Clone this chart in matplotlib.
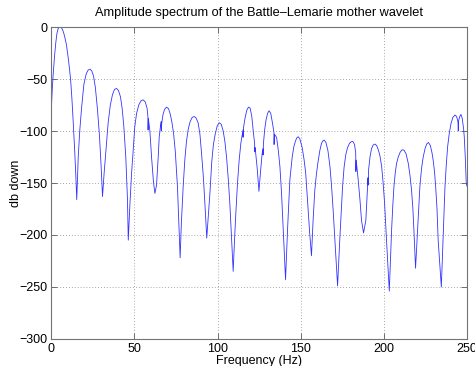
import matplotlib
matplotlib.use("Agg")
import matplotlib.pyplot as plt

freq = [0.0, 0.5, 1.1, 2.0, 2.7, 3.4, 4.1, 4.8, 5.5, 6.2, 6.9, 7.6, 8.3, 9.1, 9.7, 10.3, 11.0, 11.6, 12.4, 13.2, 14.1, 14.8, 15.3,
        16.2, 17.1, 18.2, 19.6, 21.0, 22.1, 23.2, 24.3, 25.4, 26.5, 27.7, 29.0, 30.0, 30.8,
        31.8, 32.8, 34.2, 35.5, 36.8, 38.0, 39.2, 40.4, 41.6, 42.6, 43.6, 44.8, 45.8, 46.3,
        47.3, 48.3, 49.2, 50.2, 51.3, 52.6, 53.9, 55.2, 56.5, 57.6, 58.1, 58.2, 58.4, 59.3, 60.3, 61.4, 62.3,
        63.3, 64.3, 64.9, 65.7, 66.1, 66.2, 66.4, 67.2, 68.2, 69.3, 70.5, 71.6, 72.6, 73.6, 74.6, 75.9, 77.0, 77.5,
        78.2, 79.3, 80.3, 81.3, 82.4, 83.5, 84.7, 85.9, 87.1, 88.3, 89.4, 90.4, 91.5, 92.4, 93.5,
        94.3, 95.4, 96.5, 97.5, 98.6, 99.8, 101.0, 102.2, 103.4, 104.4, 105.4, 106.4, 107.4, 108.5, 109.4,
        110.2, 111.0, 112.0, 113.0, 114.0, 115.0, 115.3, 115.4, 115.6, 116.6, 117.6, 118.6, 119.6, 120.6, 121.4, 122.3, 122.4, 122.6, 123.8, 124.9,
        125.8, 126.8, 127.3, 127.4, 127.6, 128.4, 129.2, 130.1, 131.0, 132.0, 133.0, 133.9, 134.0, 134.2, 135.5, 136.5, 137.5, 138.5, 139.5, 140.9,
        142.1, 143.5, 144.9, 145.9, 146.9, 147.7, 148.5, 149.5, 150.9, 152.0, 153.0, 154.5, 155.5, 156.5,
        157.5, 158.5, 159.5, 160.5, 161.5, 162.5, 163.3, 164.1, 165.2, 166.4, 167.6, 168.6, 169.6, 170.6, 172.2,
        173.6, 174.5, 175.2, 176.1, 177.1, 178.2, 179.3, 180.4, 181.4, 182.4, 183.1, 183.2, 183.4, 184.6, 185.6, 186.6, 187.8,
        189.2, 190.0, 190.5, 190.6, 190.8, 191.7, 192.6, 193.6, 194.6, 195.7, 196.7, 197.7, 198.7, 199.6, 200.5, 201.3, 203.3,
        204.7, 205.4, 206.1, 206.9, 207.7, 208.7, 209.8, 211.0, 212.2, 213.4, 214.7, 215.7, 216.7, 217.5, 218.1, 219.1,
        220.3, 221.0, 221.7, 222.7, 223.7, 224.8, 225.8, 226.9, 228.0, 229.0, 229.7, 230.5, 231.2, 232.0, 232.7, 234.6,
        235.7, 236.8, 237.6, 238.4, 239.4, 240.4, 241.5, 242.8, 243.8, 244.6, 244.8, 245.0, 245.7, 246.4, 247.2, 248.0, 248.4, 249.0, 249.6, 250.0]

db = [-80, -62, -46, -27, -15, -6, -1.5, 0, 0, -0.8, -3, -6.5, -11, -17, -24, -31, -41, -50, -69, -92, -120, -145, -166,
      -125, -100, -78, -55, -45, -41.5, -40.5, -42, -47, -58, -78, -105, -135, -163,
      -140, -120, -92, -75, -65, -60, -59, -61, -67, -78, -95, -125, -165, -205,
      -170, -140, -120, -96, -83, -75, -71, -70, -72, -78, -86, -99, -88, -100, -125, -148, -160,
      -152, -125, -106, -95, -91, -100, -93, -84, -79, -77, -78.5, -84, -92, -103, -120, -154, -200, -222,
      -190, -154, -128, -110, -98, -91, -87, -86, -87.5, -92, -103, -122, -145, -170, -203,
      -185, -160, -130, -113, -103, -95, -92, -93.5, -100, -110, -125, -145, -170, -205, -235,
      -205, -179, -150, -128, -112, -102, -99, -106, -97, -87, -80, -77, -78, -86, -99, -112, -120, -116, -135, -158,
      -140, -122, -117, -123, -112, -98, -89, -83, -80.5, -83, -92, -101, -113, -103, -106, -118, -134, -160, -195, -243,
      -195, -147, -125, -115, -109.5, -106.5, -105.5, -107.5, -116, -127, -140, -176, -200, -220,
      -185, -157, -141, -129, -119, -112, -109.5, -108.7, -111, -119, -134, -153.5, -178, -205, -249,
      -202, -175, -153.5, -135, -123, -116, -112, -110.3, -110, -113, -121, -139, -128, -147, -165, -186, -198,
      -186, -160, -145, -152, -138, -125, -117, -113.5, -112.5, -114, -118, -124, -134, -150, -170, -195, -254,
      -195, -172, -153.5, -140, -131, -125, -120.5, -118, -118.5, -122, -131, -142, -157, -175, -195, -232,
      -195, -172, -153.5, -136, -125, -117, -112.5, -111, -114, -121, -128, -139, -153.5, -175, -205, -250,
      -202, -153.5, -132, -115, -102, -93, -87, -84.6, -86, -91, -100, -90, -86, -84, -88, -98, -105.5, -125, -150, -153]

xticks = [0, 50, 100, 150, 200, 250]
yticks = [-300, -250, -200, -150, -100, -50, 0]

plt.rcParams['font.family'] = ['Liberation Sans', 'DejaVu Sans']
plt.rcParams['axes.unicode_minus'] = True

fig = plt.figure(figsize=(4.75, 3.66), dpi=100)
ax = fig.add_axes([0.108, 0.074, 0.875, 0.852])
ax.plot(freq, db, color='#3333ff', lw=0.6)
ax.set_xlim(0, 250)
ax.set_ylim(-300, 0)
ax.set_xticks(xticks)
ax.set_yticks(yticks)
ax.grid(True, linestyle=(0, (1, 2.5)), color='0.55', lw=0.6)
ax.tick_params(direction='in', top=True, right=True, length=4, width=0.6,
               labelsize=9, color='0.35', pad=3)
for s in ax.spines.values():
    s.set_color('0.45')
    s.set_linewidth(0.8)
ax.set_title('Amplitude spectrum of the Battle\u2013Lemarie mother wavelet',
             fontsize=9.2, pad=8)
ax.set_xlabel('Frequency (Hz)', fontsize=9, labelpad=0)
ax.set_ylabel('db down', fontsize=9, labelpad=-2)
fig.savefig('out.png', dpi=100)
